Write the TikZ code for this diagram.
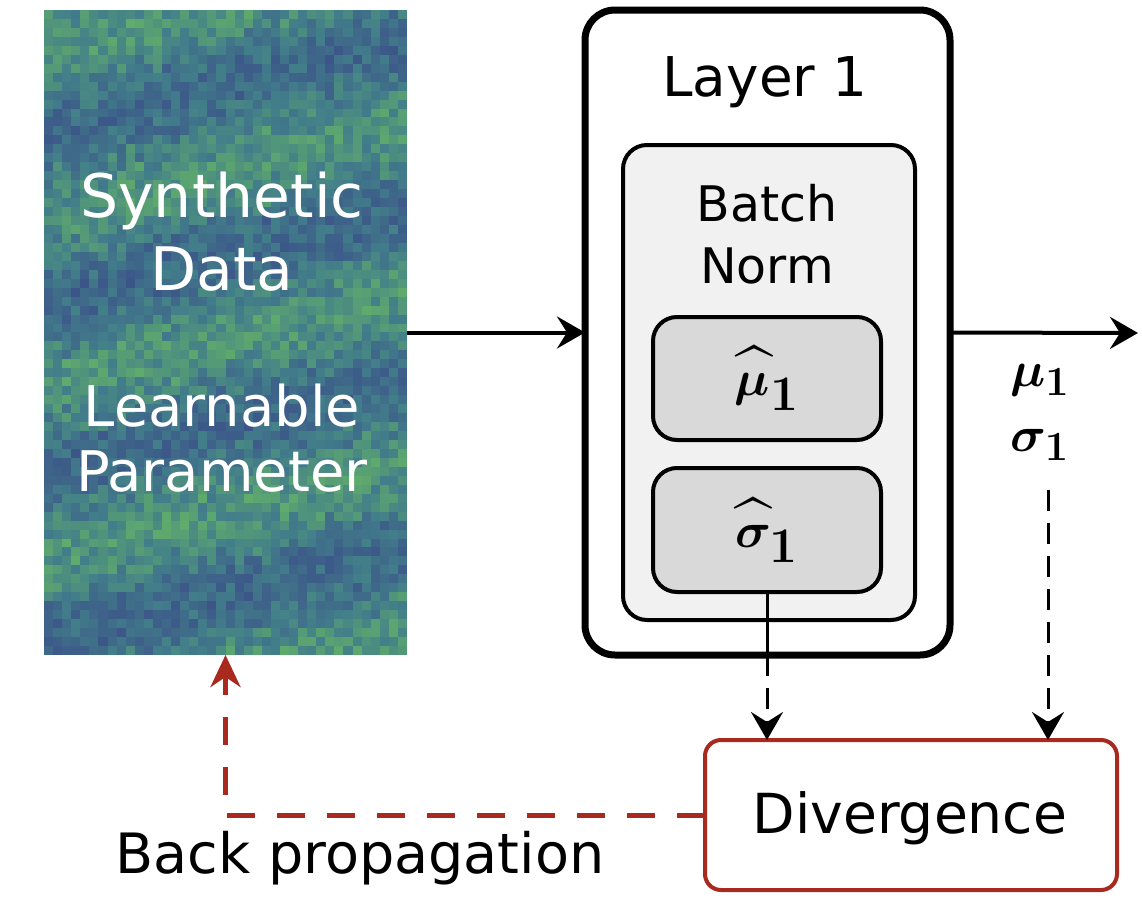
\documentclass[tikz,border=0pt]{standalone}
\usepackage{amsmath, amssymb, bm}
\usepackage{fontspec}
\setmainfont{DejaVu Sans}
\usepackage{tikz}
\usetikzlibrary{calc}
\usetikzlibrary{positioning, fit, arrows.meta}

\definecolor{vblue}{RGB}{58,74,136}
\definecolor{vteal}{RGB}{66,126,138}
\definecolor{vgreen}{RGB}{104,184,100}
\definecolor{bpred}{RGB}{168,42,30}
\definecolor{bngray}{RGB}{241,241,241}
\definecolor{statgray}{RGB}{217,217,217}

\begin{document}
\begin{tikzpicture}[x=0.5pt, y=-0.5pt,
        every node/.style={inner sep=0pt, outer sep=0pt},
        box/.style={draw, rounded corners=12pt, line width=2pt},
        flow/.style={-{Stealth[length=14pt, width=16pt, inset=5pt]}, line width=2pt},
        dasharrow/.style={-{Stealth[length=14pt, width=16pt, inset=5pt]}, line width=1.5pt, dash pattern=on 10.5pt off 6pt},
        bpline/.style={-{Stealth[length=16pt, width=15pt, inset=5pt]}, bpred, line width=2.5pt, dash pattern=on 14pt off 11pt}]
        \useasboundingbox (0,0) rectangle (1142,916);

        % Synthetic data heatmap
        \pgfmathsetseed{11}
        \foreach \i in {0,...,39}{
            \foreach \j in {0,...,71}{
                \pgfmathsetmacro\v{50+20*sin(\j*19+\i*5+40*rnd)+40*(rnd-0.5)}
                \pgfmathsetmacro\va{min(100,max(0,2*\v-100))}
                \pgfmathsetmacro\vb{min(100,max(0,2*\v))}
                \ifdim\v pt>50pt \def\cc{vgreen!\va!vteal}\else\def\cc{vteal!\vb!vblue}\fi
                \fill[fill=\cc] (44+\i*9.075, 10+\j*8.958) rectangle ++(9.3,9.2);
            }
        }
        \node[minimum width=181.5pt, minimum height=322.5pt] (heat) at (225.5,332.5) {};
        \node[text=white, align=center, font=\fontsize{30}{36.5}\selectfont] (syn) at (222,232) {Synthetic\\Data};
        \node[text=white, align=center, font=\fontsize{28}{32.5}\selectfont] (learn) at (222,438) {Learnable\\Parameter};

        % Layer 1
        \node[box, line width=3.5pt, rounded corners=15pt, fill=white, minimum width=182.5pt, minimum height=322.5pt] (layer) at (767.5,332.5) {};
        \node[font=\fontsize{27.4}{32}\selectfont] (layertxt) at (765,82) {Layer 1};
        \node[box, fill=bngray, minimum width=146pt, minimum height=237.5pt] (bn) at (769,382.5) {};
        \node[align=center, font=\fontsize{24.5}{31}\selectfont] (bntxt) at (767,234) {Batch\\Norm};
        \node[box, fill=statgray, minimum width=114pt, minimum height=61.5pt, font=\fontsize{34}{38}\selectfont] (muhat) at (767,378.5) {$\bm{\widehat{\mu}}_{\bm{1}}$};
        \node[box, fill=statgray, minimum width=114pt, minimum height=62pt, font=\fontsize{34}{38}\selectfont] (sighat) at (767,530) {$\bm{\widehat{\sigma}}_{\bm{1}}$};

        % Outputs
        \node[font=\fontsize{30}{34}\selectfont] (mu) at (1040,380) {$\bm{\mu_1}$};
        \node[font=\fontsize{30}{34}\selectfont] (sig) at (1040,445) {$\bm{\sigma_1}$};
        \coordinate (out) at (1138,333);
        \coordinate (s1) at (1048,490);

        % Divergence
        \node[box, draw=bpred, fill=white, rounded corners=8pt, minimum width=206pt, minimum height=75pt] (div) at (911,815) {};
        \node[font=\fontsize{27.6}{32}\selectfont] (divtxt) at (910,818) {Divergence};
        \node[font=\fontsize{27.8}{32}\selectfont] (bp) at (360,858) {Back propagation};

        % Connectors
        \draw[flow] (heat.east |- layer.west) -- (layer.west);
        \draw[flow] (layer.east) -- (out);
        \draw[line width=1.5pt] (sighat.south) -- (sighat.south |- layer.south);
        \draw[dasharrow] (sighat.south |- layer.south) -- (sighat.south |- div.north);
        \draw[dasharrow] (s1) -- (s1 |- div.north);
        \draw[bpline] (div.west) -| (heat.south);
    \end{tikzpicture}
\end{document}
